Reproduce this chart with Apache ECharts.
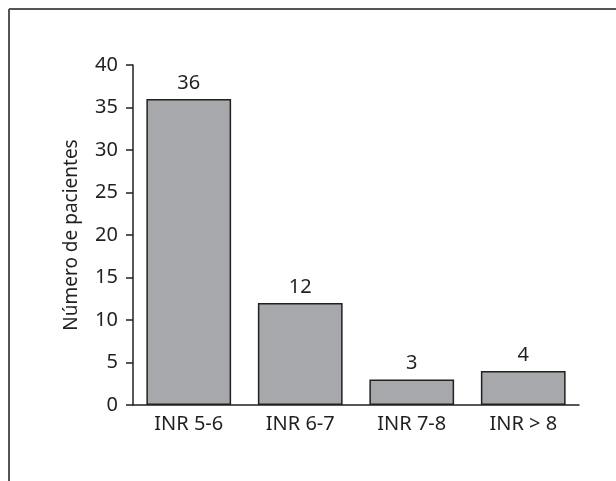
<!DOCTYPE html>
<html lang="es">

<head>
    <meta charset="UTF-8">
    <title>Número de pacientes</title>
    <style>
        html, body { margin: 0; padding: 0; background: #fff; }
    </style>
</head>

<body>

    <div id="chart" style="width: 616px; height: 481px;"></div>

    <script src="https://cdn.jsdelivr.net/npm/echarts@6/dist/echarts.min.js"></script>
    <script>
        // datos
        const categorias = ['INR 5-6', 'INR 6-7', 'INR 7-8', 'INR > 8']
        const pacientes = [36, 12, 3, 4]
        const ticksY = [0, 5, 10, 15, 20, 25, 30, 35, 40]

        const fuente = '"Noto Sans", sans-serif'
        const tinta = '#231f20'

        const myChart = echarts.init(document.getElementById('chart'))

        const option = {
            animation: false,
            grid: {
                left: 133,
                right: 37,
                top: 65,
                bottom: 76
            },
            // marco de la figura (solo arriba e izquierda)
            graphic: [{
                type: 'line',
                shape: { x1: 9, y1: 9, x2: 616, y2: 9 },
                style: { stroke: '#555', lineWidth: 2 }
            }, {
                type: 'line',
                shape: { x1: 9, y1: 9, x2: 9, y2: 481 },
                style: { stroke: '#555', lineWidth: 2 }
            }],
            xAxis: {
                type: 'category',
                data: categorias,
                axisLine: { lineStyle: { color: tinta, width: 1.5 } },
                axisTick: { length: 7, lineStyle: { color: tinta, width: 1.5 } },
                axisLabel: {
                    color: tinta,
                    fontFamily: fuente,
                    fontSize: 20,
                    margin: 9
                }
            },
            yAxis: {
                type: 'value',
                min: ticksY[0],
                max: ticksY[ticksY.length - 1],
                interval: 5,
                name: 'Número de pacientes',
                nameLocation: 'middle',
                nameGap: 52,
                nameTextStyle: {
                    color: tinta,
                    fontFamily: fuente,
                    fontSize: 19
                },
                splitLine: { show: false },
                axisLine: { show: true, lineStyle: { color: tinta, width: 1.5 } },
                axisTick: { show: true, length: 7, lineStyle: { color: tinta, width: 1.5 } },
                axisLabel: {
                    color: tinta,
                    fontFamily: fuente,
                    fontSize: 20,
                    margin: 15
                }
            },
            series: [{
                type: 'bar',
                data: pacientes,
                barCategoryGap: '24%',
                itemStyle: {
                    color: '#a7a8ab',
                    borderColor: tinta,
                    borderWidth: 1.5
                },
                label: {
                    show: true,
                    position: 'top',
                    distance: 6,
                    color: tinta,
                    fontFamily: fuente,
                    fontSize: 20
                }
            }]
        }

        myChart.setOption(option)
    </script>
</body>

</html>
